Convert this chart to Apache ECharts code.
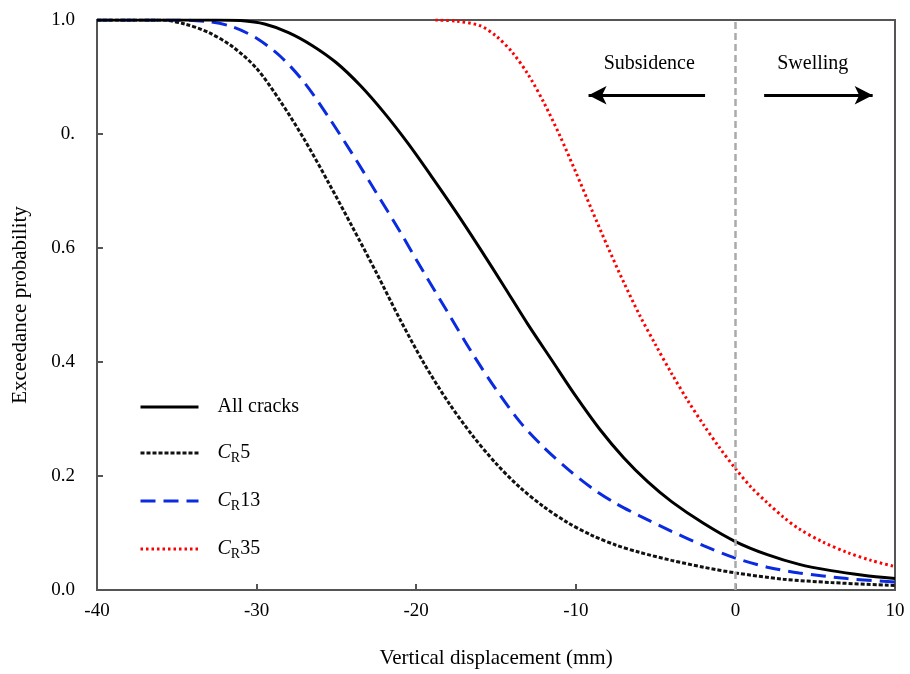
<!DOCTYPE html>
<html><head><meta charset="utf-8">
<script src="https://cdn.jsdelivr.net/npm/echarts@6/dist/echarts.min.js"></script>
<style>html,body{margin:0;padding:0;background:#fff}#c{width:910px;height:674px}</style>
</head><body><div id="c"></div>
<script>
// ---- data ----
var xTicks = [-40, -30, -20, -10, 0, 10];
var yTickLabels = ['0.0', '0.2', '0.4', '0.6', '0.', '1.0'];

var allX = [-40, -37, -34, -32.5, -31, -29.5, -28, -26.5, -25, -23.5, -22, -20.5, -19, -17.5, -16, -14.5, -13, -11.5, -10, -8.5, -7, -5.5, -4, -2, 0, 2, 4, 6, 8, 10];
var allY = [1.0, 1.0, 1.0, 1.0, 0.999, 0.993, 0.978, 0.955, 0.925, 0.885, 0.837, 0.783, 0.724, 0.663, 0.599, 0.533, 0.466, 0.403, 0.34, 0.282, 0.232, 0.19, 0.155, 0.117, 0.085, 0.062, 0.045, 0.034, 0.026, 0.02];

var cr5X = [-40, -38, -36, -34.5, -33, -31.5, -30, -28.5, -27, -25.5, -24, -22.5, -21, -19.5, -18, -16.5, -15, -13.5, -12, -10.5, -9, -7.5, -6, -4, -2, 0, 3, 6, 10];
var cr5Y = [1.0, 1.0, 1.0, 0.993, 0.978, 0.953, 0.915, 0.857, 0.79, 0.715, 0.637, 0.557, 0.474, 0.397, 0.33, 0.272, 0.222, 0.18, 0.146, 0.118, 0.096, 0.079, 0.066, 0.052, 0.04, 0.03, 0.019, 0.013, 0.008];

var cr13X = [-40, -37, -35, -33, -31.5, -30, -28.5, -27, -25.5, -24, -22.5, -21, -19.5, -18, -16.5, -15, -13.5, -12, -10.5, -9, -7.5, -6, -4, -2, 0, 2, 4, 7, 10];
var cr13Y = [1.0, 1.0, 1.0, 0.997, 0.988, 0.968, 0.936, 0.89, 0.83, 0.765, 0.697, 0.628, 0.556, 0.486, 0.416, 0.352, 0.295, 0.25, 0.212, 0.179, 0.152, 0.13, 0.103, 0.078, 0.056, 0.04, 0.03, 0.02, 0.014];

var cr35X = [-18.8, -17.5, -16, -15, -14, -13, -12, -11, -10, -9, -8, -7, -6, -5, -4, -3, -2, -1, 0, 1, 2, 3, 4, 5.5, 7, 8.5, 10];
var cr35Y = [1.0, 0.998, 0.99, 0.972, 0.944, 0.905, 0.855, 0.797, 0.733, 0.667, 0.602, 0.54, 0.482, 0.43, 0.38, 0.333, 0.29, 0.25, 0.213, 0.18, 0.153, 0.128, 0.107, 0.084, 0.066, 0.052, 0.041];

var seriesNames = ['All cracks', 'CR5', 'CR13', 'CR35'];

// annotations (data coordinates)
var subsidenceArrow = [[-1.9, 0.868], [-9.2, 0.868]];
var swellingArrow = [[1.8, 0.868], [8.6, 0.868]];
var subsidenceLabel = [-5.4, 0.924];
var swellingLabel = [4.85, 0.924];

function pairs(xs, ys) { return xs.map(function (x, i) { return [x, ys[i]]; }); }

var font = 'Liberation Serif';
var chart = echarts.init(document.getElementById('c'), null, { renderer: 'canvas' });

var legendRich = {
  i: { fontFamily: font, fontSize: 20, fontStyle: 'italic', color: '#000' },
  s: { fontFamily: font, fontSize: 14, color: '#000', padding: [10, 0, 0, 0] },
  n: { fontFamily: font, fontSize: 20, color: '#000' }
};

var axisCommon = {
  axisLine: { show: true, onZero: false, lineStyle: { color: '#555', width: 2 } },
  axisTick: { show: true, inside: true, length: 6, lineStyle: { color: '#555', width: 2 } },
  splitLine: { show: false }
};

chart.setOption({
  animation: false,
  backgroundColor: '#fff',
  grid: { left: 97, right: 15, top: 20, bottom: 84, show: true, borderColor: '#555', borderWidth: 2 },
  legend: {
    orient: 'vertical', left: 134, top: 392, itemGap: 26,
    itemWidth: 58, itemHeight: 20,
    data: seriesNames,
    itemStyle: { color: 'transparent', borderWidth: 0, opacity: 0 },
    lineStyle: { width: 3 },
    textStyle: { fontFamily: font, fontSize: 20, color: '#000', padding: [0, 0, 0, 14], rich: legendRich },
    formatter: function (name) {
      if (name.indexOf('CR') === 0) return '{i|C}{s|R}{n|' + name.slice(2) + '}';
      return '{n|' + name + '}';
    }
  },
  xAxis: Object.assign({
    type: 'value', min: -40, max: 10, interval: 10,
    name: 'Vertical displacement (mm)', nameLocation: 'middle', nameGap: 58,
    nameTextStyle: { fontFamily: font, fontSize: 21, color: '#000' },
    axisLabel: { fontFamily: font, fontSize: 19, color: '#000', margin: 12,
      formatter: function (v) { return xTicks.indexOf(v) >= 0 ? String(v) : ''; } }
  }, axisCommon),
  yAxis: Object.assign({
    type: 'value', min: 0, max: 1, interval: 0.2,
    name: 'Exceedance probability', nameLocation: 'middle', nameGap: 66,
    nameTextStyle: { fontFamily: font, fontSize: 21, color: '#000' },
    axisLabel: { fontFamily: font, fontSize: 19, color: '#000', margin: 22,
      formatter: function (v) { return yTickLabels[Math.round(v / 0.2)]; } }
  }, axisCommon),
  series: [
    {
      name: 'CR35', type: 'line', data: pairs(cr35X, cr35Y), smooth: 0.3,
      showSymbol: false, symbol: 'none', z: 3,
      lineStyle: { color: '#ff0000', width: 3, type: [2.5, 3] },
      itemStyle: { color: '#ff0000' }
    },
    {
      name: 'CR5', type: 'line', data: pairs(cr5X, cr5Y), smooth: 0.3,
      showSymbol: false, symbol: 'none', z: 3,
      lineStyle: { color: '#111', width: 3, type: [4, 2] },
      itemStyle: { color: '#111' }
    },
    {
      name: 'CR13', type: 'line', data: pairs(cr13X, cr13Y), smooth: 0.3,
      showSymbol: false, symbol: 'none', z: 3,
      lineStyle: { color: '#0a2be0', width: 3, type: [15, 8] },
      itemStyle: { color: '#0a2be0' }
    },
    {
      name: 'All cracks', type: 'line', data: pairs(allX, allY), smooth: 0.3,
      showSymbol: false, symbol: 'none', z: 4,
      lineStyle: { color: '#000', width: 3 },
      itemStyle: { color: '#000' },
      markLine: {
        silent: true, symbol: ['none', 'none'], label: { show: false },
        lineStyle: { color: '#aaa', width: 2.5, type: [7, 4] },
        data: [{ xAxis: 0 }]
      }
    },
    {
      name: 'annot', type: 'line', data: [], z: 5,
      markLine: {
        silent: true, symbol: ['none', 'arrow'], symbolSize: [14, 18], label: { show: false },
        lineStyle: { color: '#000', width: 3, type: 'solid' },
        data: [
          [{ coord: subsidenceArrow[0] }, { coord: subsidenceArrow[1] }],
          [{ coord: swellingArrow[0] }, { coord: swellingArrow[1] }]
        ]
      },
      markPoint: {
        silent: true, symbol: 'circle', symbolSize: 0,
        label: { show: true, position: 'inside', fontFamily: font, fontSize: 20, color: '#000',
          formatter: function (p) { return p.name; } },
        data: [
          { name: 'Subsidence', coord: subsidenceLabel },
          { name: 'Swelling', coord: swellingLabel }
        ]
      }
    }
  ]
});
</script>
</body></html>
